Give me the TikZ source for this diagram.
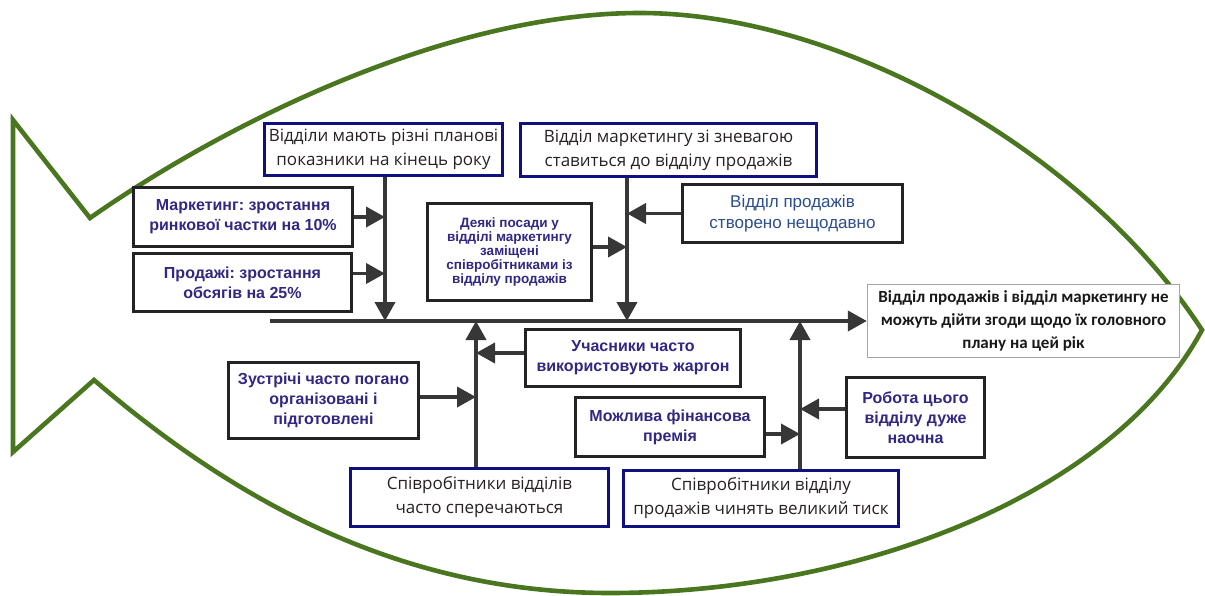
\documentclass[tikz,border=0pt]{standalone}
\usepackage{fontspec}
\setmainfont{Liberation Sans}
\newfontfamily\opensans{Open Sans}
\newfontfamily\carlito{Carlito}
\usepackage{xcolor}
\usepackage{tikz}
\usetikzlibrary{arrows.meta, positioning}
\definecolor{fishgreen}{RGB}{74,118,32}
\definecolor{navyline}{RGB}{16,16,128}
\definecolor{boxline}{RGB}{35,35,35}
\definecolor{arrowgray}{RGB}{55,55,55}
\definecolor{causetext}{RGB}{48,40,130}
\definecolor{newblue}{RGB}{45,78,140}
\definecolor{topictext}{RGB}{40,32,36}
\frenchspacing

\begin{document}
\begin{tikzpicture}[
    x=1pt, y=-1pt,
    every node/.style={font=\fontsize{16}{20}\selectfont},
    cause/.style={rectangle, draw=boxline, line width=2.6pt, fill=white, align=center, text=causetext, font=\fontsize{16}{20}\selectfont\bfseries, inner sep=2pt},
    topic/.style={rectangle, draw=navyline, line width=2.6pt, fill=white, align=center, text=topictext, font=\opensans\fontsize{17}{24}\selectfont, inner sep=2pt},
    effect/.style={rectangle, draw=gray!70, line width=1.3pt, fill=white, align=center, text=black!90, font=\carlito\fontsize{17}{23}\selectfont\bfseries, inner sep=2pt},
    arr/.style={-{Triangle[length=19pt, width=20pt]}, line width=3.8pt, draw=arrowgray, fill=arrowgray},
    fishline/.style={draw=fishgreen, line width=4.6pt, line join=miter}
]
    \useasboundingbox (0,0) rectangle (1205,596);

    \draw[fishline] (13,120) -- (90,218) .. controls (230,120) and (450,13) .. (640,13)
        .. controls (840,13) and (1085,150) .. (1202,330)
        .. controls (1110,500) and (850,593) .. (610,593)
        .. controls (410,593) and (244,509) .. (94,380) -- (13,452) -- cycle;

    \node (plan) [topic, minimum width=238pt, minimum height=52pt] at (383.5,149.5) {Відділи мають різні планові\\показники на кінець року};
    \node (disdain) [topic, minimum width=296pt, minimum height=53pt] at (668.5,150) {Відділ маркетингу зі зневагою\\ставиться до відділу продажів};
    \node (mkt) [cause, minimum width=219pt, minimum height=59pt] at (243,217) {Маркетинг: зростання\\ринкової частки на 10\%};
    \node (sales) [cause, minimum width=218pt, minimum height=58pt] at (242.5,282.5) {Продажі: зростання\\обсягів на 25\%};
    \node (swap) [cause, minimum width=164pt, minimum height=97pt, font=\fontsize{13.5}{14}\selectfont\bfseries] at (509.5,252) {Деякі посади у\\відділі маркетингу\\заміщені\\співробітниками із\\відділу продажів};
    \node (fresh) [cause, minimum width=220pt, minimum height=58pt, font=\fontsize{17}{21}\selectfont, text=newblue] at (792.5,213.5) {Відділ продажів\\створено нещодавно};
    \node (effect) [effect, minimum width=312pt, minimum height=73pt] at (1023.5,321) {Відділ продажів і відділ маркетингу не\\можуть дійти згоди щодо їх головного\\плану на цей рік};
    \node (jargon) [cause, minimum width=215pt, minimum height=57pt] at (633,358) {Учасники часто\\використовують жаргон};
    \node (meet) [cause, minimum width=190pt, minimum height=76pt] at (323.5,400.5) {Зустрічі часто погано\\організовані і\\підготовлені};
    \node (bonus) [cause, minimum width=189pt, minimum height=59pt] at (670,427) {Можлива фінансова\\премія};
    \node (seen) [cause, minimum width=138pt, minimum height=80pt] at (915.5,417.5) {Робота цього\\відділу дуже\\наочна};
    \node (argue) [topic, minimum width=258pt, minimum height=58pt] at (479.5,497.5) {Співробітники відділів\\часто сперечаються};
    \node (press) [topic, minimum width=275pt, minimum height=56pt] at (761,498.5) {Співробітники відділу\\продажів чинять великий тиск};

    \coordinate (tail) at (270,321);
    \coordinate (j1) at (385,321);
    \coordinate (j2) at (627,321);
    \coordinate (j3) at (476,321);
    \coordinate (j4) at (800,321);

    \draw[arr] (tail) -- (effect.west);
    \draw[arr] (plan.south -| j1) -- (j1);
    \draw[arr] (disdain.south -| j2) -- (j2);
    \draw[arr] (argue.north -| j3) -- (j3);
    \draw[arr] (press.north -| j4) -- (j4);
    \draw[arr] (mkt.east) -- (mkt.east -| j1);
    \draw[arr] ([yshift=9pt]sales.east) -- ([yshift=9pt]sales.east -| j1);
    \draw[arr] (fresh.west) -- (fresh.west -| j2);
    \draw[arr] ([yshift=5pt]swap.east) -- ([yshift=5pt]swap.east -| j2);
    \draw[arr] ([yshift=5pt]jargon.west) -- ([yshift=5pt]jargon.west -| j3);
    \draw[arr] ([yshift=3.5pt]meet.east) -- ([yshift=3.5pt]meet.east -| j3);
    \draw[arr] ([yshift=8.5pt]seen.west) -- ([yshift=8.5pt]seen.west -| j4);
    \draw[arr] ([yshift=-7pt]bonus.east) -- ([yshift=-7pt]bonus.east -| j4);
\end{tikzpicture}
\end{document}
